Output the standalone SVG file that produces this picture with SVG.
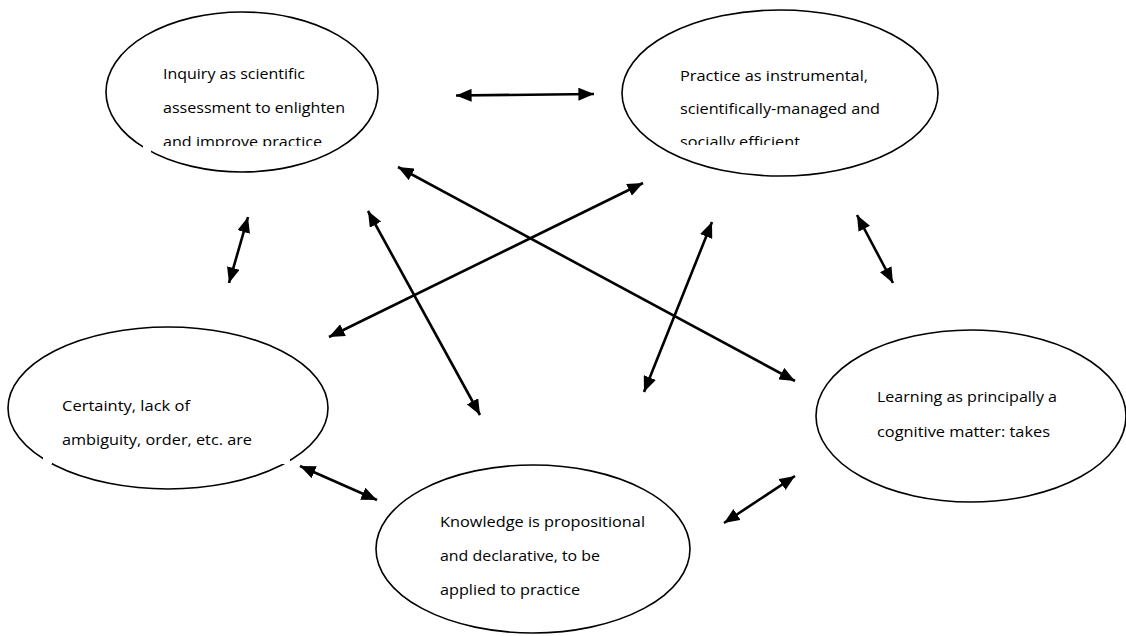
<svg xmlns="http://www.w3.org/2000/svg" width="1126" height="636" viewBox="0 0 1126 636">
<style>
.node{fill:#fff;stroke:#000;stroke-width:1.6}
.lbl{font-family:"Open Sans","Liberation Sans",sans-serif;font-size:14.5px;fill:#000}
.conn line{stroke:#000;stroke-width:2.6;marker-start:url(#ah);marker-end:url(#ah)}
.gap{fill:#fff;stroke:none}
</style>
<defs>
<marker id="ah" viewBox="0 0 6 5" refX="6" refY="2.5" markerWidth="6" markerHeight="5" orient="auto-start-reverse">
<path d="M0,0 L6,2.5 L0,5 z" fill="#000"/>
</marker>
<clipPath id="c1"><rect x="140" y="40" width="220" height="106"/></clipPath>
<clipPath id="c2"><rect x="670" y="40" width="240" height="105"/></clipPath>
</defs>
<rect width="1126" height="636" fill="#fff"/>
<g id="n1">
<ellipse class="node" cx="242" cy="92" rx="136" ry="80"/>
<rect class="gap" x="143" y="138" width="8" height="16"/>
<g clip-path="url(#c1)">
<text class="lbl" x="163" y="79" textLength="142" lengthAdjust="spacingAndGlyphs">Inquiry as scientific</text>
<text class="lbl" x="163" y="113" textLength="182" lengthAdjust="spacingAndGlyphs">assessment to enlighten</text>
<text class="lbl" x="163" y="147" textLength="159" lengthAdjust="spacingAndGlyphs">and improve practice</text>
</g>
</g>
<g id="n2">
<ellipse class="node" cx="780" cy="93" rx="158" ry="83"/>
<g clip-path="url(#c2)">
<text class="lbl" x="680" y="81" textLength="188" lengthAdjust="spacingAndGlyphs">Practice as instrumental,</text>
<text class="lbl" x="680" y="114" textLength="200" lengthAdjust="spacingAndGlyphs">scientifically-managed and</text>
<text class="lbl" x="680" y="147" textLength="120" lengthAdjust="spacingAndGlyphs">socially efficient</text>
</g>
</g>
<g id="n3">
<ellipse class="node" cx="168" cy="408" rx="160" ry="81"/>
<rect class="gap" x="43" y="453" width="9" height="11"/>
<rect class="gap" x="281" y="453" width="9" height="11"/>
<text class="lbl" x="62" y="411" textLength="128" lengthAdjust="spacingAndGlyphs">Certainty, lack of</text>
<text class="lbl" x="62" y="445" textLength="190" lengthAdjust="spacingAndGlyphs">ambiguity, order, etc. are</text>
</g>
<g id="n4">
<ellipse class="node" cx="533" cy="549" rx="157" ry="84"/>
<text class="lbl" x="440" y="527" textLength="205" lengthAdjust="spacingAndGlyphs">Knowledge is propositional</text>
<text class="lbl" x="440" y="561" textLength="160" lengthAdjust="spacingAndGlyphs">and declarative, to be</text>
<text class="lbl" x="440" y="595" textLength="140" lengthAdjust="spacingAndGlyphs">applied to practice</text>
</g>
<g id="n5">
<ellipse class="node" cx="971" cy="416" rx="155" ry="86"/>
<text class="lbl" x="877" y="402" textLength="180" lengthAdjust="spacingAndGlyphs">Learning as principally a</text>
<text class="lbl" x="877" y="437" textLength="173" lengthAdjust="spacingAndGlyphs">cognitive matter: takes</text>
</g>
<g id="connectors" class="conn">
<line x1="456" y1="95.5" x2="594" y2="94"/>
<line x1="398" y1="167" x2="795" y2="381"/>
<line x1="643" y1="183" x2="329" y2="337"/>
<line x1="368" y1="211" x2="480" y2="415"/>
<line x1="712" y1="222" x2="644" y2="392"/>
<line x1="248" y1="217" x2="229" y2="283"/>
<line x1="857" y1="215" x2="893" y2="283"/>
<line x1="300" y1="466" x2="377" y2="500"/>
<line x1="724" y1="523" x2="795" y2="476"/>
</g>
</svg>
